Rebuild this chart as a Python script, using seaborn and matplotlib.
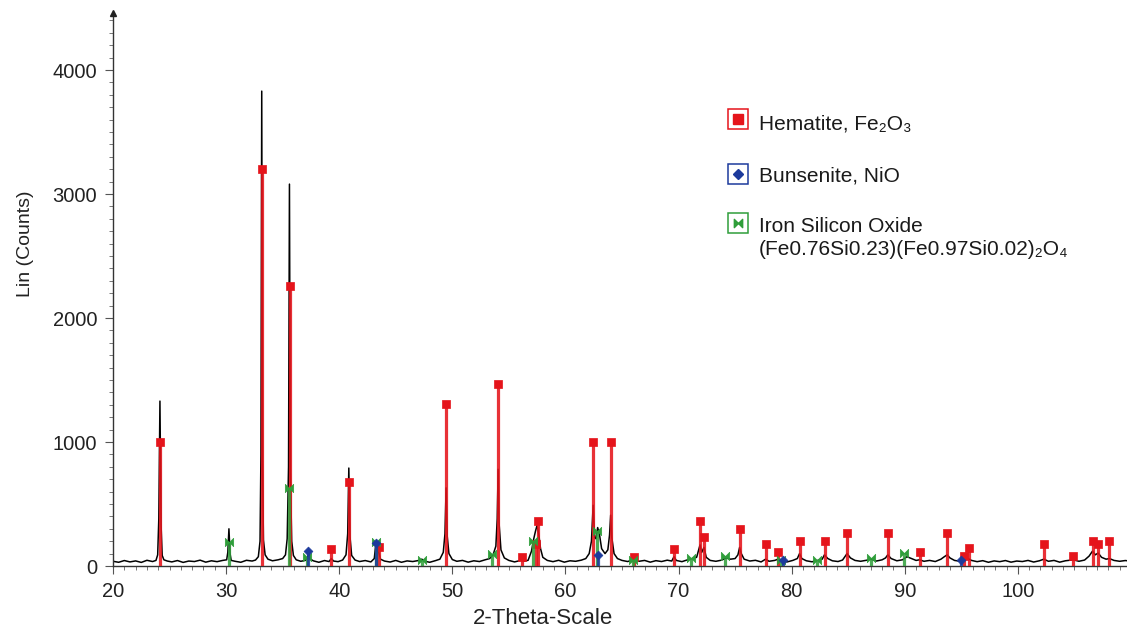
import matplotlib
matplotlib.use("Agg")
import matplotlib.pyplot as plt
from matplotlib.lines import Line2D
from matplotlib.path import Path
from matplotlib.ticker import MultipleLocator
import pandas as pd
import seaborn as sns

# Measured diffractogram: 2-theta (deg) and intensity (counts)
scan_2theta = [
    20.0, 20.5, 21.0, 21.5, 22.0, 22.5, 23.0, 23.5, 23.8, 23.95, 24.05, 24.15, 24.25, 24.35, 24.5, 24.8,
    25.2, 25.7, 26.2, 26.7, 27.2, 27.7, 28.2, 28.7, 29.2, 29.7, 30.05, 30.15, 30.25, 30.35, 30.45,
    30.8, 31.3, 31.8, 32.3, 32.6, 32.85, 33.0, 33.08, 33.15, 33.22, 33.3, 33.45, 33.7,
    34.1, 34.6, 35.0, 35.25, 35.4, 35.52, 35.6, 35.68, 35.8, 35.95, 36.2,
    36.6, 37.0, 37.2, 37.3, 37.4, 37.7, 38.2, 38.7, 39.1, 39.3, 39.5, 39.9, 40.3, 40.6,
    40.75, 40.85, 40.95, 41.1, 41.4, 41.8, 42.3, 42.8, 43.1, 43.25, 43.35, 43.5, 43.65,
    44.0, 44.5, 45.0, 45.5, 46.0, 46.5, 47.0, 47.3, 47.6, 48.0, 48.5, 48.9, 49.2,
    49.35, 49.45, 49.55, 49.7, 50.0, 50.4, 50.9, 51.4, 51.9, 52.4, 52.9, 53.3, 53.6, 53.85,
    53.97, 54.05, 54.13, 54.3, 54.6, 55.0, 55.5, 56.0, 56.15, 56.3, 56.7,
    57.0, 57.2, 57.35, 57.5, 57.65, 57.8, 58.0, 58.4, 58.9, 59.4, 59.9, 60.4, 60.9, 61.4,
    61.8, 62.1, 62.3, 62.45, 62.58, 62.7, 62.85, 63.0, 63.2, 63.5, 63.75, 63.9, 64.0, 64.1, 64.3, 64.6, 65.0,
    65.5, 66.0, 66.5, 67.0, 67.5, 68.0, 68.5, 69.0, 69.4, 69.6, 69.8, 70.3, 70.8,
    71.2, 71.6, 71.9, 72.05, 72.25, 72.45, 72.8, 73.3, 73.8, 74.2, 74.6, 75.0, 75.25, 75.4, 75.55, 75.8,
    76.3, 76.8, 77.3, 77.7, 78.0, 78.5, 78.8, 79.1, 79.6, 80.1, 80.5, 80.7, 80.9, 81.3, 81.8,
    82.3, 82.7, 82.9, 83.2, 83.6, 84.1, 84.5, 84.9, 85.2, 85.6, 86.1, 86.6, 87.0, 87.5,
    88.0, 88.3, 88.5, 88.8, 89.3, 89.8, 90.2, 90.6, 91.0, 91.3, 91.7, 92.2, 92.7,
    93.2, 93.5, 93.75, 94.0, 94.4, 94.9, 95.3, 95.6, 95.9, 96.4, 96.9, 97.4, 97.9,
    98.4, 98.9, 99.4, 99.9, 100.4, 100.9, 101.4, 101.9, 102.3, 102.7, 103.2, 103.7, 104.2,
    104.9, 105.4, 105.9, 106.3, 106.6, 106.85, 107.1, 107.4, 107.8, 108.1, 108.5, 109.0, 109.5, 109.9,
]
scan_counts = [
    38, 30, 44, 33, 41, 29, 46, 36, 45, 90, 380, 1330, 330, 85, 50, 40,
    33, 44, 29, 40, 36, 47, 31, 42, 35, 45, 50, 110, 300, 100, 45,
    38, 30, 46, 40, 48, 75, 200, 900, 3830, 850, 210, 90, 55,
    42, 50, 60, 90, 220, 800, 3080, 760, 200, 85, 50,
    38, 45, 70, 100, 60, 42, 30, 44, 36, 60, 40, 35, 48, 90,
    260, 790, 240, 85, 48, 36, 44, 33, 60, 190, 150, 110, 55,
    40, 32, 45, 30, 41, 36, 44, 55, 38, 30, 43, 55, 110,
    260, 630, 240, 100, 52, 38, 45, 31, 42, 36, 50, 60, 90, 160,
    380, 780, 350, 130, 65, 45, 33, 44, 60, 38, 46,
    120, 220, 280, 330, 250, 140, 70, 45, 35, 46, 31, 42, 38, 47,
    60, 100, 200, 490, 230, 220, 310, 260, 140, 100, 130, 250, 410, 230, 100, 60, 45,
    36, 50, 38, 45, 31, 43, 36, 47, 40, 75, 45, 35, 50,
    60, 70, 170, 110, 150, 70, 45, 38, 47, 65, 55, 60, 90, 150, 100, 55,
    40, 46, 33, 55, 38, 45, 55, 40, 33, 45, 60, 100, 60, 42, 34,
    45, 55, 90, 60, 42, 36, 48, 100, 65, 45, 38, 46, 55, 40,
    50, 65, 90, 60, 42, 50, 75, 60, 45, 50, 38, 45, 36,
    55, 75, 90, 65, 45, 38, 50, 60, 45, 35, 43, 30, 41,
    35, 44, 31, 40, 36, 45, 32, 42, 55, 38, 45, 31, 42,
    50, 38, 48, 80, 120, 90, 105, 70, 55, 60, 45, 38, 44, 40,
]

# Reference stick patterns (2-theta, counts)
hematite_2theta = [24.15, 33.15, 35.62, 39.28, 40.86, 43.52, 49.47, 54.08, 56.15, 57.43,
                   57.60, 62.45, 64.02, 66.03, 69.60, 71.93, 72.26, 75.43, 77.73, 78.76,
                   80.71, 82.94, 84.91, 88.54, 91.35, 93.71, 95.24, 95.66, 102.28, 104.90,
                   106.60, 107.10, 108.10]
hematite_counts = [1000, 3200, 2260, 140, 680, 150, 1310, 1470, 75, 180,
                   360, 1000, 1000, 72, 140, 362, 232, 296, 175, 112,
                   200, 200, 265, 265, 112, 265, 80, 145, 175, 80,
                   200, 177, 200]

bunsenite_2theta = [37.25, 43.28, 62.88, 79.20, 95.00]
bunsenite_counts = [120, 185, 90, 45, 45]

fesio_2theta = [30.25, 35.55, 37.15, 43.22, 47.30, 53.50, 57.10, 62.78, 66.00, 71.10,
                74.10, 79.10, 82.20, 87.00, 89.94]
fesio_counts = [195, 630, 70, 195, 52, 100, 200, 280, 48, 62,
                80, 48, 50, 64, 105]

legend_labels = ["Hematite, Fe\u2082O\u2083", "Bunsenite, NiO",
                 "Iron Silicon Oxide", "(Fe0.76Si0.23)(Fe0.97Si0.02)\u2082O\u2084"]

RED = "#e5141b"
BLUE = "#1c3a9c"
GREEN = "#2f9e3a"

sns.set_theme(style="ticks")
plt.rcParams["font.family"] = ["Liberation Sans", "DejaVu Sans"]

W, H = 1127, 633
fig = plt.figure(figsize=(W / 100, H / 100), dpi=100)
ax = fig.add_axes([113 / W, 67 / H, 1014 / W, 553 / H])

bowtie = Path([(-1, 1), (0, 0), (1, 1), (1, -1), (0, 0), (-1, -1), (-1, 1)],
              [Path.MOVETO] + [Path.LINETO] * 5 + [Path.CLOSEPOLY])

scan = pd.DataFrame({"two_theta": scan_2theta, "counts": scan_counts})
sns.lineplot(data=scan, x="two_theta", y="counts", estimator=None, sort=False,
             color="black", linewidth=1.1, ax=ax, zorder=2)

phases = [
    (hematite_2theta, hematite_counts, RED, "s", 5.5, 0.88, 3),
    (fesio_2theta, fesio_counts, GREEN, bowtie, 6.0, 0.85, 4),
    (bunsenite_2theta, bunsenite_counts, BLUE, "D", 4.5, 0.85, 5),
]
for pos, cnt, col, mk, ms, alpha, z in phases:
    ax.vlines(pos, 0, cnt, colors=col, linewidth=2.3, alpha=alpha, zorder=z)
    sns.scatterplot(x=pos, y=cnt, marker=mk, s=ms ** 2, color=col, edgecolor=col,
                    linewidth=0.5, ax=ax, zorder=z + 0.5, legend=False)

ax.set_xlim(20, 109.65)
ax.set_ylim(0, 4460)
ax.xaxis.set_major_locator(MultipleLocator(10))
ax.xaxis.set_minor_locator(MultipleLocator(1))
ax.yaxis.set_major_locator(MultipleLocator(1000))
ax.yaxis.set_minor_locator(MultipleLocator(100))
ax.set_xticks(range(20, 101, 10))

for side in ("top", "right"):
    ax.spines[side].set_visible(False)
for side in ("left", "bottom"):
    ax.spines[side].set_color("#333333")
    ax.spines[side].set_linewidth(1.0)

ax.tick_params(axis="both", which="major", direction="out", length=5.5, width=0.8,
               color="#555555", labelsize=14.5, labelcolor="#222222")
ax.tick_params(axis="both", which="minor", direction="out", length=3.2, width=0.7,
               color="#777777")
ax.tick_params(axis="x", which="major", pad=6)
ax.tick_params(axis="y", which="major", pad=6)

# arrow head at the top of the intensity axis
ax.plot([0], [1], marker="^", markersize=5, color="#222222", transform=ax.transAxes,
        clip_on=False, zorder=6)

ax.set_xlabel("2-Theta-Scale", fontsize=16, color="#222222")
ax.set_ylabel("Lin (Counts)", fontsize=14, color="#222222")
ax.xaxis.set_label_coords((543 - 113) / 1014, (566 - 608) / 553)
ax.yaxis.set_label_coords((34 - 113) / 1014, (566 - 244) / 553)

# legend entries: framed marker icons with labels
def fx(px):
    return px / W


def fy(py):
    return 1 - py / H


entries = [
    (RED, "s", 6.5, 119, 129, legend_labels[0]),
    (BLUE, "D", 5.0, 174, 182, legend_labels[1]),
    (GREEN, bowtie, 6.0, 223, 232, legend_labels[2]),
]
for col, mk, ms, icon_y, base_y, label in entries:
    fig.add_artist(Line2D([fx(738)], [fy(icon_y)], marker="s", markersize=14.5,
                          markerfacecolor="white", markeredgecolor=col,
                          markeredgewidth=1.1, linestyle="none",
                          transform=fig.transFigure))
    fig.add_artist(Line2D([fx(738)], [fy(icon_y)], marker=mk, markersize=ms,
                          color=col, linestyle="none", transform=fig.transFigure))
    fig.text(fx(759), fy(base_y), label, fontsize=15, va="baseline", ha="left",
             color="#1a1a1a")
fig.text(fx(759), fy(255), legend_labels[3], fontsize=15, va="baseline", ha="left",
         color="#1a1a1a")

fig.savefig("out.png", dpi=100)
